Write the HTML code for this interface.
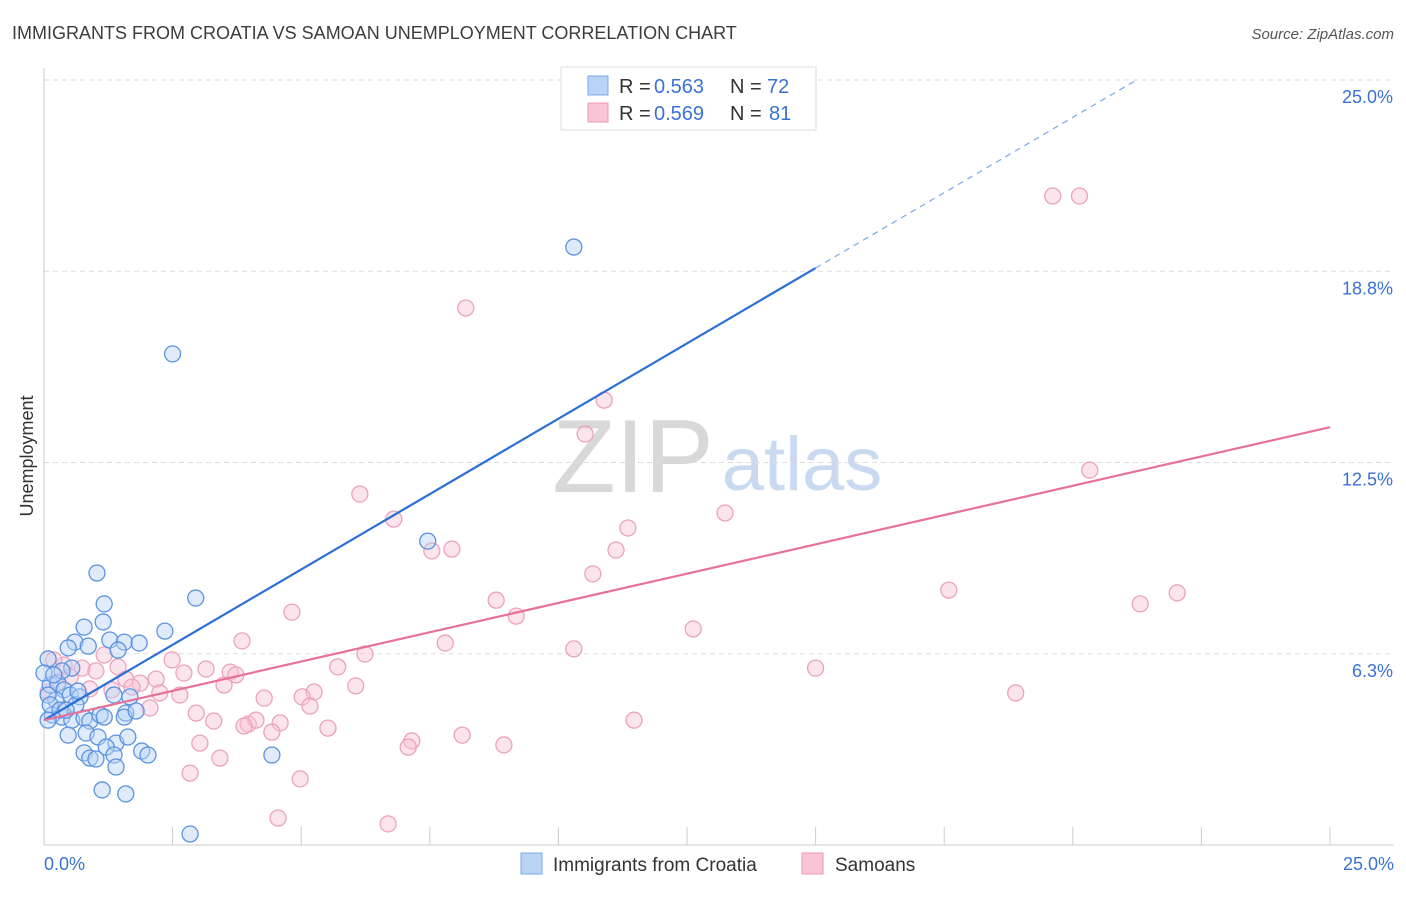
<!DOCTYPE html>
<html><head><meta charset="utf-8"><style>
body{margin:0;background:#fff;font-family:"Liberation Sans",sans-serif;}
svg text{font-family:"Liberation Sans",sans-serif;}
</style></head><body>
<svg id="chart" width="1406" height="892" xmlns="http://www.w3.org/2000/svg">
<text x="12" y="39" font-size="18" fill="#3c3c3c">IMMIGRANTS FROM CROATIA VS SAMOAN UNEMPLOYMENT CORRELATION CHART</text>
<text x="1394" y="39" font-size="15" fill="#555" text-anchor="end" font-style="italic">Source: ZipAtlas.com</text>
<g>
<text x="633" y="492" font-size="104" fill="#d8d8d8" text-anchor="middle" font-family="Liberation Serif, serif">ZIP</text>
<text x="802" y="490" font-size="76" fill="#c9daf0" text-anchor="middle">atlas</text>
</g>
<text transform="translate(33,456) rotate(-90)" font-size="18" fill="#333" text-anchor="middle">Unemployment</text>
<g id="grid"></g><g id="axes"></g><g id="marks"></g>
<g>
<rect x="561" y="67" width="255" height="63" fill="#fff" stroke="#ddd"/>
<rect x="588" y="76" width="20" height="19" fill="#b9d3f7" stroke="#7aa8e6"/>
<rect x="588" y="103" width="20" height="19" fill="#f9c4d5" stroke="#ec9ab4"/>
<text x="619" y="93" font-size="20" fill="#333">R =</text>
<text x="654" y="93" font-size="20" fill="#3a72d4">0.563</text>
<text x="730" y="93" font-size="20" fill="#333">N =</text>
<text x="767" y="93" font-size="20" fill="#3a72d4">72</text>
<text x="619" y="120" font-size="20" fill="#333">R =</text>
<text x="654" y="120" font-size="20" fill="#3a72d4">0.569</text>
<text x="730" y="120" font-size="20" fill="#333">N =</text>
<text x="769" y="120" font-size="20" fill="#3a72d4">81</text>
</g>
<g>
<rect x="521" y="853" width="21" height="21" fill="#b9d3f7" stroke="#7aa8e6"/>
<text x="553" y="871" font-size="19" fill="#333">Immigrants from Croatia</text>
<rect x="802" y="853" width="21" height="21" fill="#f9c4d5" stroke="#ec9ab4"/>
<text x="835" y="871" font-size="19" fill="#333">Samoans</text>
</g>
</svg>
<script>
const xTicks=[0,2.5,5,7.5,10,12.5,15,17.5,20,22.5,25];
const yTickVals=[6.25,12.5,18.75,25];
const yTickLabels=["6.3%","12.5%","18.8%","25.0%"];
const xEndLabels=["0.0%","25.0%"];
const croatiaX=[10.3,2.5,1.03,2.95,1.17,7.46,2.35,0.78,1.15,0.6,0.47,0.86,1.28,1.56,1.85,1.44,0.08,0.54,0.12,0.27,0.39,0.51,0.7,0.23,0.08,0.16,0.35,0.54,0.78,0.89,1.09,0.12,0.31,0.62,1.36,1.67,1.59,1.56,1.79,1.17,0.47,0.82,1.05,1.4,1.63,1.21,0.78,0.89,1.01,1.36,1.9,2.02,4.43,1.4,1.13,1.59,2.84,0.0,0.35,0.66,0.19,0.08,0.43];
const croatiaY=[19.54,16.05,8.89,8.07,7.88,9.93,6.99,7.12,7.29,6.63,6.44,6.5,6.7,6.63,6.6,6.37,6.08,5.78,5.23,5.29,5.07,4.9,4.84,4.74,4.9,4.25,4.18,4.08,4.15,4.05,4.25,4.58,4.41,4.58,4.9,4.84,4.31,4.18,4.38,4.18,3.59,3.66,3.53,3.33,3.53,3.2,3.01,2.84,2.81,2.94,3.07,2.94,2.94,2.55,1.8,1.67,0.36,5.62,5.69,5.03,5.56,4.08,4.41];
const samoaX=[19.61,20.13,8.2,10.89,10.52,20.33,6.14,6.8,13.24,11.35,11.12,7.93,7.54,10.67,8.79,17.59,22.03,21.31,4.82,9.18,12.62,3.85,7.8,10.3,6.24,15.0,5.71,2.49,3.15,3.62,2.72,1.17,0.74,0.39,0.19,1.01,1.44,1.59,1.87,2.18,1.32,2.25,2.64,3.5,3.73,6.06,5.25,5.02,5.17,4.28,18.89,2.06,2.96,3.3,3.97,4.12,3.89,4.59,5.52,11.47,3.03,3.42,4.43,8.13,7.15,8.94,7.08,2.84,4.98,4.55,6.69,0.27,0.51,0.08,0.89,1.71];
const samoaY=[21.21,21.21,17.55,14.54,13.43,12.25,11.47,10.65,10.85,10.36,9.64,9.67,9.61,8.86,8.0,8.33,8.24,7.88,7.61,7.48,7.06,6.67,6.6,6.41,6.24,5.78,5.82,6.05,5.75,5.65,5.62,6.21,5.78,5.88,6.05,5.69,5.82,5.42,5.29,5.42,5.07,4.97,4.9,5.23,5.56,5.2,5.0,4.84,4.54,4.8,4.97,4.48,4.31,4.05,3.95,4.08,3.89,3.99,3.82,4.08,3.33,2.84,3.69,3.59,3.4,3.27,3.2,2.35,2.16,0.88,0.69,5.33,5.49,5.0,5.1,5.16];
const croatiaFit=[4.08,0.985];
const samoaFit=[4.08,0.383];
const NS="http://www.w3.org/2000/svg";
const X=v=>44+v*51.44, Y=v=>845-v*30.6;
function mk(tag,attrs,parent){const e=document.createElementNS(NS,tag);for(const k in attrs)e.setAttribute(k,attrs[k]);document.getElementById(parent).appendChild(e);return e;}
yTickVals.forEach((v,i)=>{
 const l=mk('line',{x1:44,x2:1394,y1:Y(v),y2:Y(v),stroke:'#ddd','stroke-dasharray':'5,4'},'grid');
 
 
 const t=mk('text',{x:1393,y:Y(v)+23,'font-size':18,fill:'#3a72d4','text-anchor':'end'},'axes');
 t.textContent=yTickLabels[i];
 
 
});
const ax=mk('line',{x1:44,x2:44,y1:68,y2:845,stroke:'#ccc'},'axes');


const bx=mk('line',{x1:44,x2:1394,y1:845,y2:845,stroke:'#ccc'},'axes');


xTicks.forEach(v=>{const t=mk('line',{x1:X(v),x2:X(v),y1:827,y2:845,stroke:'#ccc'},'axes');
 
 });
[[0,'start',44],[1,'end',1394]].forEach(([i,a,x])=>{const t=mk('text',{x:x,y:870,'font-size':18,fill:'#3a72d4','text-anchor':a},'axes');t.textContent=xEndLabels[i];
 
 });
function dots(xs,ys,fill,stroke,name){xs.forEach((x,i)=>{const c=mk('circle',{cx:X(x),cy:Y(ys[i]),r:8,fill:fill,stroke:stroke,'stroke-width':1.3},'marks');
 
 });}
dots(samoaX,samoaY,'rgba(249,196,213,0.45)','#eca2bb','samoan-point');
dots(croatiaX,croatiaY,'rgba(185,211,247,0.45)','#5b93e0','croatia-point');
const cl=mk('line',{x1:X(0),y1:Y(croatiaFit[0]),x2:X(15),y2:Y(croatiaFit[0]+croatiaFit[1]*15),stroke:'#2a6fd6','stroke-width':2.2},'marks');


const xe=(25-croatiaFit[0])/croatiaFit[1];
const cd=mk('line',{x1:X(15),y1:Y(croatiaFit[0]+croatiaFit[1]*15),x2:X(xe),y2:Y(25),stroke:'#7aa8e6','stroke-width':1.2,'stroke-dasharray':'6,5'},'marks');


const sl=mk('line',{x1:X(0),y1:Y(samoaFit[0]),x2:X(25),y2:Y(samoaFit[0]+samoaFit[1]*25),stroke:'#e8719a','stroke-width':2.2},'marks');


</script>
</body></html>
